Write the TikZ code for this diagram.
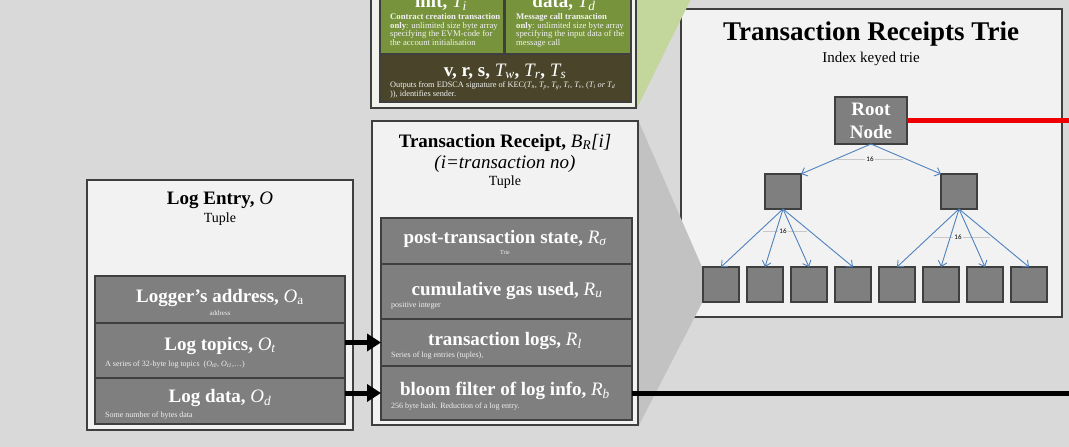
\documentclass[tikz,border=0pt]{standalone}
\usepackage{fontspec}
\setmainfont{Liberation Serif}
\newfontfamily\countfont{Carlito}
\usetikzlibrary{arrows.meta}
\definecolor{bg}{HTML}{D9D9D9}
\definecolor{panel}{HTML}{F2F2F2}
\definecolor{toppanel}{HTML}{F2F2EC}
\definecolor{cellgray}{HTML}{7F7F7F}
\definecolor{edge}{HTML}{3F3F3F}
\definecolor{olivecell}{HTML}{77933C}
\definecolor{darkolive}{HTML}{4A452A}
\definecolor{lightgreen}{HTML}{C3D69B}
\definecolor{zoomgray}{HTML}{C2C2C2}
\definecolor{arrowblue}{HTML}{4F81BD}
\definecolor{countline}{HTML}{C8C8C8}
\definecolor{redline}{HTML}{EE0000}
\newcommand\fsz[2]{\fontsize{#1}{#2}\selectfont}
\newcommand\vv[2]{\textnormal{\itshape #1\textsubscript{#2}}}
\begin{document}
\begin{tikzpicture}[x=1pt,y=-1pt,
  panelbox/.style={draw=edge,line width=2.6pt,fill=panel,inner sep=0pt,outer sep=0pt,anchor=north west},
  cellbox/.style={draw=edge,line width=2.2pt,fill=cellgray,inner sep=0pt,outer sep=0pt,anchor=north west},
  trienode/.style={draw=edge,line width=2.8pt,fill=cellgray,inner sep=0pt,outer sep=0pt,anchor=north west,minimum width=36pt,minimum height=35pt},
  celltitle/.style={text=white,font={\fsz{19}{22}\bfseries},anchor=base,inner sep=0pt},
  headtext/.style={text=black,anchor=base,inner sep=0pt},
  cellsub/.style={text=white!94!black,font={\fsz{8}{9}},anchor=base west,inner sep=0pt},
  cellsubc/.style={text=white!94!black,font={\fsz{7}{8}},anchor=base,inner sep=0pt},
  topnote/.style={text=white!95!black,font={\fsz{8.7}{8.6}},anchor=north west,align=left,inner sep=0pt},
  bigarrow/.style={line width=5pt,-{Triangle[length=14pt,width=17pt]}},
  thickline/.style={line width=5pt},
  triearrow/.style={draw=arrowblue,line width=0.9pt,-{Straight Barb[length=5pt,width=9pt]}},
  countlabel/.style={font={\countfont\fsz{7}{8}},fill=panel,inner sep=1pt},
  countrule/.style={draw=countline,line width=0.6pt},
]
\useasboundingbox (0,0) rectangle (1069,447);
\clip (0,0) rectangle (1069,447);
\fill[bg] (0,0) rectangle (1069,447);

% ---------- Transaction receipts trie ----------
\node[panelbox,minimum width=381pt,minimum height=308pt] (trie) at (681,9) {};
\node[headtext,font={\fsz{27}{30}\bfseries}] (trietitle) at (871,40) {Transaction Receipts Trie};
\node[headtext,font={\fsz{15}{17}}] (triesub) at (871,62) {Index keyed trie};

% zoom trapezoid from receipt to leaf
\fill[zoomgray] (639,122) -- (702,267) -- (702,303) -- (639,425) -- cycle;

% green triangle from the transaction box
\fill[lightgreen] (636,-1) -- (691,-1) -- (637,108) -- cycle;

\node[trienode,minimum width=72pt,minimum height=47pt,align=center,text=white,font={\fsz{19}{23}\bfseries}] (root) at (835,97) {Root\\Node};
\node[trienode] (l1a) at (765,174) {};
\node[trienode] (l1b) at (941,174) {};
\foreach \i/\x in {1/703,2/747,3/791,4/835,5/879,6/923,7/967,8/1011}{
  \node[trienode] (leaf\i) at (\x,267) {};
}

\draw[countrule] (837,159) -- (903,159);
\draw[countrule] (763,231) -- (807,231);
\draw[countrule] (933,237) -- (990,237);

\draw[triearrow] (root.south) -- (l1a.north east);
\draw[triearrow] (root.south) -- (l1b.north west);
\foreach \i in {1,2,3,4}{ \draw[triearrow] (l1a.south) -- (leaf\i.north); }
\foreach \i in {5,6,7,8}{ \draw[triearrow] (l1b.south) -- (leaf\i.north); }

\node[countlabel] (c0) at (870,159) {16};
\node[countlabel] (c1) at (783,231) {16};
\node[countlabel] (c2) at (958,237) {16};

\coordinate (rightedge) at (1075,0);
\draw[redline,line width=5pt] (root.east) -- (root.east -| rightedge);

% ---------- Transaction box (top, cut off) ----------
\node[panelbox,fill=toppanel,minimum width=265pt,minimum height=130pt] (txbox) at (371,-22) {};
\node[cellbox,fill=olivecell,minimum width=124pt,minimum height=76pt] (initcell) at (380,-22) {};
\node[cellbox,fill=olivecell,minimum width=126pt,minimum height=76pt] (datacell) at (505,-22) {};
\node[cellbox,fill=darkolive,minimum width=251pt,minimum height=48pt] (sigcell) at (380,54) {};
\node[celltitle] (inittitle) at (441,7.5) {init, \vv{T}{i}};
\node[celltitle] (datatitle) at (564,7.5) {data, \vv{T}{d}};
\node[topnote] (initnote) at (390,13.4) {\textbf{Contract creation transaction}\\\textbf{only}: unlimited size byte array\\specifying the EVM-code for\\the account initialisation};
\node[topnote] (datanote) at (516,13.4) {\textbf{Message call transaction}\\\textbf{only}: unlimited size byte array\\specifying the input data of the\\message call};
\node[celltitle] (sigtitle) at (505,76) {v, r, s, \vv{T}{w}, \vv{T}{r}, \vv{T}{s}};
\node[topnote,font={\fsz{8.3}{9.4}}] (signote) at (390,81.2) {Outputs from EDSCA signature of KEC(\vv{T}{n}, \vv{T}{p}, \vv{T}{g}, \vv{T}{t}, \vv{T}{v}, (\vv{T}{i} \textit{or} \vv{T}{d}\\)), identifies sender.};

% ---------- Transaction receipt ----------
\node[panelbox,minimum width=266pt,minimum height=304pt] (receipt) at (372,121) {};
\node[headtext,font={\fsz{19}{22}}] (rtitle) at (505,147) {\textbf{Transaction Receipt,} \vv{B}{R}\textit{[i]}};
\node[headtext,font={\fsz{19}{22}\itshape}] (rnote) at (505,168) {(i=transaction no)};
\node[headtext,font={\fsz{14}{16}}] (rtuple) at (505,185) {Tuple};

\node[cellbox,minimum width=251pt,minimum height=46pt] (poststate) at (381,218) {};
\node[cellbox,minimum width=251pt,minimum height=55pt] (gasused) at (381,264) {};
\node[cellbox,minimum width=251pt,minimum height=47pt] (tlogs) at (381,319) {};
\node[cellbox,minimum width=251pt,minimum height=54pt] (bloom) at (381,366) {};

\node[celltitle] (psT) at (505,243) {post-transaction state, \vv{R}{σ}};
\node[cellsubc,font={\fsz{6}{7}}] (psS) at (505,254) {Trie};
\node[celltitle] (guT) at (507,295) {cumulative gas used, \vv{R}{u}};
\node[cellsub] (guS) at (391,307) {positive integer};
\node[celltitle] (tlT) at (505,345) {transaction logs, \vv{R}{l}};
\node[cellsub] (tlS) at (391,357) {Series of log entries (tuples),};
\node[celltitle] (bfT) at (505,395) {bloom filter of log info, \vv{R}{b}};
\node[cellsub] (bfS) at (391,408) {256 byte hash. Reduction of a log entry.};

% ---------- Log entry ----------
\node[panelbox,minimum width=266pt,minimum height=250pt] (logentry) at (87,180) {};
\node[headtext,font={\fsz{19}{22}}] (ltitle) at (220,204) {\textbf{Log Entry,} \textit{O}};
\node[headtext,font={\fsz{14}{16}}] (ltuple) at (220,222) {Tuple};

\node[cellbox,minimum width=250pt,minimum height=47pt] (logaddr) at (95,276) {};
\node[cellbox,minimum width=250pt,minimum height=55pt] (logtopics) at (95,323) {};
\node[cellbox,minimum width=250pt,minimum height=46pt] (logdata) at (95,378) {};

\node[celltitle] (laT) at (220,302) {Logger’s address, \textnormal{\textit{O}\textsubscript{a}}};
\node[cellsubc] (laS) at (220,315) {address};
\node[celltitle] (ltT) at (220,350) {Log topics, \vv{O}{t}};
\node[cellsub] (ltS) at (105,366) {A series of 32-byte log topics \ (\vv{O}{t0}, \vv{O}{t1},…)};
\node[celltitle] (ldT) at (220,402) {Log data, \vv{O}{d}};
\node[cellsub] (ldS) at (105,417) {Some number of bytes data};

% ---------- connectors ----------
\draw[bigarrow] (logtopics.east |- tlogs.west) -- (tlogs.west);
\draw[bigarrow] (logdata.east |- bloom.west) -- (bloom.west);
\draw[thickline] (bloom.east) -- (bloom.east -| rightedge);
\end{tikzpicture}
\end{document}
